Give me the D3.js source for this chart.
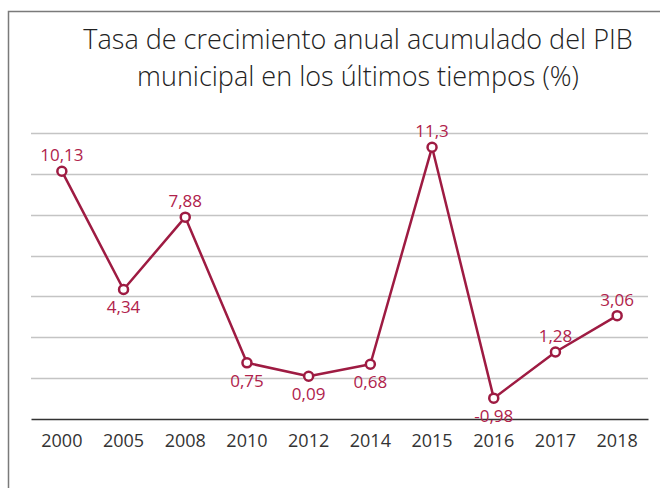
<!DOCTYPE html>
<html lang="es">
<head>
<meta charset="utf-8">
<title>PIB municipal</title>
<script src="https://d3js.org/d3.v7.min.js"></script>
<style>
  body { margin: 0; background: #fff; }
  text { font-family: "Open Sans", sans-serif; }
</style>
</head>
<body>
<div id="chart"></div>
<script>
// data
var years = ["2000", "2005", "2008", "2010", "2012", "2014", "2015", "2016", "2017", "2018"];
var growth = [10.13, 4.34, 7.88, 0.75, 0.09, 0.68, 11.3, -0.98, 1.28, 3.06];
var labels = ["10,13", "4,34", "7,88", "0,75", "0,09", "0,68", "11,3", "-0,98", "1,28", "3,06"];
var labelAbove = [true, false, true, false, false, false, true, false, true, true];
var gridValues = [0, 2, 4, 6, 8, 10, 12];
var titleLines = ["Tasa de crecimiento anual acumulado del PIB", "municipal en los últimos tiempos (%)"];

var W = 660, H = 488;
var red = "#9e1b42";

var svg = d3.select("#chart").append("svg").attr("width", W).attr("height", H);

// frame (left + top edges)
svg.append("path")
  .attr("d", "M8.5," + H + "V11.5H" + W)
  .attr("fill", "none").attr("stroke", "#7a7a7a").attr("stroke-width", 1.5);

// title
svg.selectAll(".title").data(titleLines).enter().append("text")
  .attr("x", 358).attr("y", function(d, i) { return 49 + i * 37; })
  .attr("text-anchor", "middle")
  .attr("font-size", 27).attr("font-weight", 300).attr("fill", "#222")
  .text(function(d) { return d; });

var x = d3.scaleBand().domain(years).range([31, 648]).padding(0);
var y = d3.scaleLinear().domain([-2, 12]).range([419, 133]);

// gridlines
svg.append("g").selectAll("line").data(gridValues).enter().append("line")
  .attr("x1", 31).attr("x2", 648)
  .attr("y1", function(d) { return Math.round(y(d)) + 0.5; })
  .attr("y2", function(d) { return Math.round(y(d)) + 0.5; })
  .attr("stroke", "#c4c4c4").attr("stroke-width", 1.5);

// x axis
var xAxis = svg.append("g").attr("transform", "translate(0," + y(-2) + ")")
  .call(d3.axisBottom(x).tickSize(0).tickPadding(15));
xAxis.select(".domain").attr("stroke", "#333").attr("stroke-width", 1.5);
xAxis.selectAll("text").attr("font-size", 18).attr("fill", "#333")
  .attr("font-family", "'Open Sans', sans-serif");

var cx = function(d, i) { return x(years[i]) + x.bandwidth() / 2; };

// line
var line = d3.line()
  .x(function(d, i) { return cx(d, i); })
  .y(function(d) { return y(d); });

svg.append("path").datum(growth)
  .attr("d", line)
  .attr("fill", "none").attr("stroke", red).attr("stroke-width", 2.5)
  .attr("stroke-linejoin", "round");

// markers
svg.append("g").selectAll("circle").data(growth).enter().append("circle")
  .attr("cx", cx).attr("cy", function(d) { return y(d); })
  .attr("r", 4.5)
  .attr("fill", "#fff").attr("stroke", red).attr("stroke-width", 2.5);

// value labels
svg.append("g").selectAll("text").data(growth).enter().append("text")
  .attr("x", cx)
  .attr("y", function(d, i) { return labelAbove[i] ? y(d) - 10 : y(d) + 24; })
  .attr("text-anchor", "middle")
  .attr("font-size", 17).attr("fill", "#b0224b")
  .text(function(d, i) { return labels[i]; });
</script>
</body>
</html>
